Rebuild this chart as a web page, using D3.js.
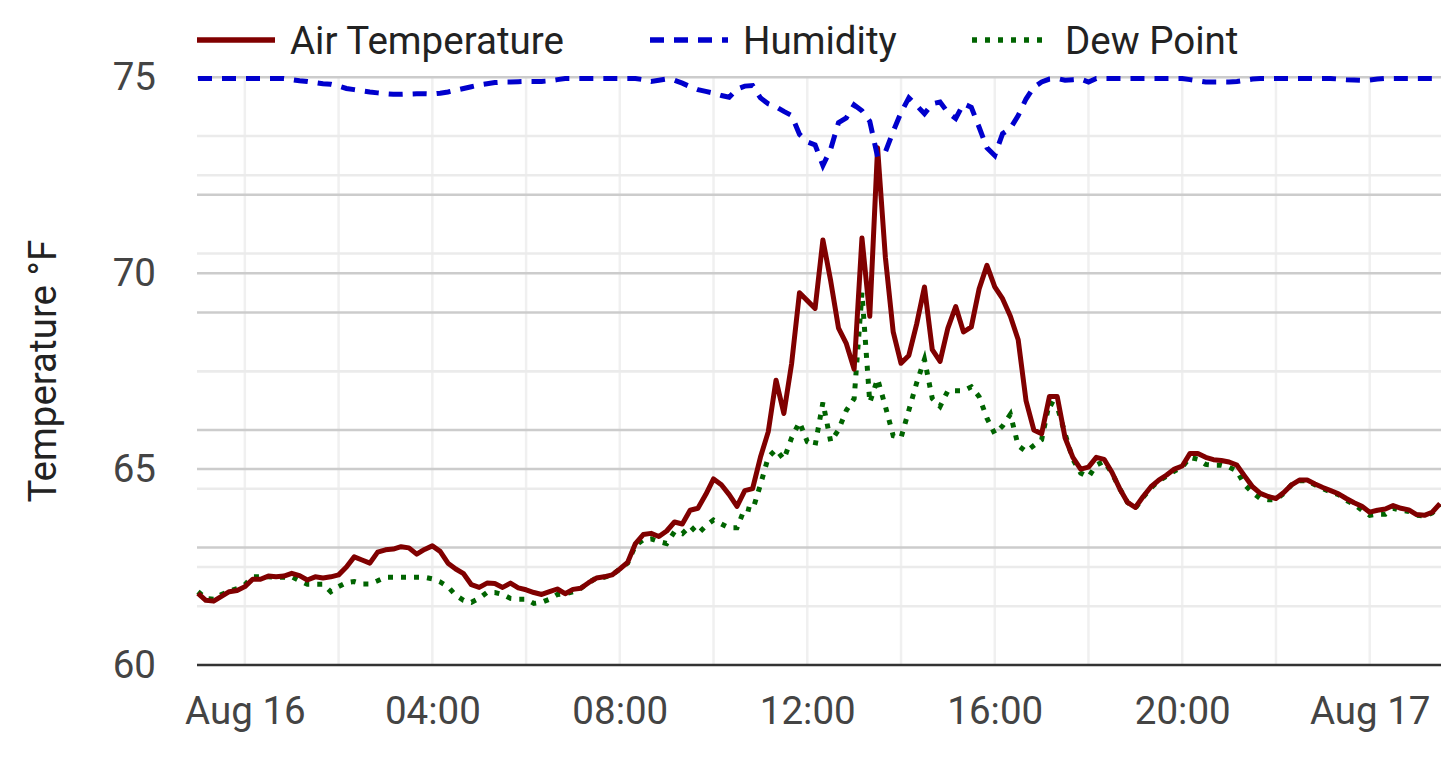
<!DOCTYPE html>
<html>
<head>
<meta charset="utf-8">
<script src="https://cdn.jsdelivr.net/npm/d3@7"></script>
<style>
  html, body { margin: 0; padding: 0; background: #fff; }
  svg { display: block; font-family: Roboto, "Noto Sans", sans-serif; }
  svg text { font-family: Roboto, "Noto Sans", sans-serif; }
</style>
</head>
<body>
<script>

var width = 1441, height = 761;

// readings every 10 minutes, starting Aug 15 23:00
var startTime = new Date(2023, 7, 15, 23, 0);
var endTime = new Date(2023, 7, 17, 1, 30);
var stepMinutes = 10;

var airTemp = [
  61.83, 61.65, 61.63, 61.75, 61.87, 61.90, 62.00, 62.19, 62.19, 62.27,
  62.25, 62.27, 62.34, 62.28, 62.17, 62.25, 62.22, 62.25, 62.30, 62.50,
  62.76, 62.68, 62.60, 62.88, 62.94, 62.96, 63.02, 62.99, 62.83, 62.95,
  63.04, 62.90, 62.60, 62.45, 62.33, 62.05, 61.98, 62.09, 62.08, 61.98,
  62.09, 61.97, 61.92, 61.85, 61.80, 61.87, 61.94, 61.82, 61.93, 61.96,
  62.10, 62.22, 62.25, 62.30, 62.45, 62.62, 63.10, 63.33, 63.36, 63.28,
  63.42, 63.65, 63.60, 63.95, 64.00, 64.35, 64.75, 64.60, 64.35, 64.05,
  64.45, 64.50, 65.30, 65.95, 67.27, 66.42, 67.70, 69.50, 69.30, 69.10,
  70.85, 69.80, 68.60, 68.20, 67.55, 70.90, 68.90, 73.20, 70.40, 68.50,
  67.70, 67.90, 68.70, 69.65, 68.05, 67.75, 68.60, 69.15, 68.50, 68.63,
  69.60, 70.20, 69.65, 69.35, 68.90, 68.30, 66.75, 66.00, 65.90, 66.85,
  66.85, 65.80, 65.30, 65.00, 65.05, 65.30, 65.25, 64.92, 64.50, 64.15,
  64.02, 64.30, 64.55, 64.72, 64.85, 65.00, 65.08, 65.40, 65.40, 65.30,
  65.24, 65.22, 65.18, 65.10, 64.82, 64.55, 64.38, 64.30, 64.25, 64.40,
  64.60, 64.72, 64.72, 64.62, 64.53, 64.45, 64.37, 64.25, 64.14, 64.05,
  63.90, 63.95, 63.98, 64.07, 64.00, 63.96, 63.84, 63.82, 63.90, 64.12
];

var humidity = [
  99.8, 99.8, 99.8, 99.8, 99.8, 99.8, 99.8, 99.8, 99.8, 99.8,
  99.8, 99.8, 99.6, 99.4, 99.3, 99.1, 98.9, 98.8, 98.5, 98.1,
  97.9, 97.7, 97.5, 97.35, 97.2, 97.1, 97.1, 97.15, 97.2, 97.2,
  97.15, 97.3, 97.5, 97.8, 98.1, 98.4, 98.7, 98.9, 99.1, 99.2,
  99.2, 99.25, 99.3, 99.3, 99.3, 99.4, 99.6, 99.8, 99.8, 99.8,
  99.8, 99.8, 99.8, 99.8, 99.8, 99.8, 99.8, 99.6, 99.3, 99.5,
  99.7, 99.5, 99.0, 98.4, 97.9, 97.6, 97.3, 96.9, 96.6, 98.0,
  98.5, 98.6, 96.5, 95.5, 95.0, 94.2, 93.5, 90.3, 89.0, 88.5,
  85.0, 87.8, 92.3, 93.1, 95.3, 94.3, 92.5, 86.5, 87.3, 90.8,
  94.0, 96.5, 95.2, 93.8, 95.5, 95.8, 94.0, 93.0, 95.5, 94.9,
  91.5, 88.0, 86.7, 90.4, 91.3, 93.5, 96.3, 98.3, 99.2, 99.7,
  99.8, 99.5, 99.6, 99.7, 99.2, 99.8, 99.8, 99.8, 99.8, 99.8,
  99.8, 99.8, 99.8, 99.8, 99.8, 99.8, 99.8, 99.6, 99.4, 99.2,
  99.2, 99.2, 99.2, 99.3, 99.5, 99.7, 99.8, 99.8, 99.8, 99.8,
  99.8, 99.8, 99.8, 99.8, 99.8, 99.8, 99.7, 99.6, 99.55, 99.5,
  99.55, 99.7, 99.8, 99.8, 99.8, 99.8, 99.8, 99.8, 99.8, 99.8
];

var dewPoint = [
  61.87, 61.70, 61.68, 61.80, 61.88, 61.95, 62.05, 62.25, 62.25, 62.25,
  62.24, 62.24, 62.25, 62.15, 62.06, 62.06, 62.06, 61.87, 62.00, 62.10,
  62.13, 62.07, 62.07, 62.15, 62.24, 62.24, 62.24, 62.24, 62.24, 62.24,
  62.20, 62.12, 62.00, 61.78, 61.65, 61.60, 61.70, 61.85, 61.85, 61.80,
  61.70, 61.68, 61.68, 61.57, 61.60, 61.68, 61.80, 61.82, 61.87, 61.96,
  62.10, 62.22, 62.24, 62.30, 62.45, 62.60, 63.05, 63.20, 63.22, 63.15,
  63.10, 63.40, 63.35, 63.55, 63.35, 63.55, 63.70, 63.60, 63.50, 63.50,
  64.00, 63.95, 64.60, 65.30, 65.50, 65.25, 65.80, 66.20, 65.70, 65.60,
  66.70, 65.70, 66.00, 66.50, 66.80, 69.50, 66.70, 67.30, 66.60, 65.85,
  65.80, 66.50, 67.20, 67.80, 66.80, 66.60, 67.00, 67.00, 67.00, 67.10,
  66.85, 66.30, 65.90, 66.10, 66.40, 65.60, 65.45, 65.60, 65.75, 66.70,
  66.60, 65.90, 65.25, 64.90, 64.80, 65.10, 65.20, 64.90, 64.50, 64.15,
  64.00, 64.28, 64.52, 64.70, 64.82, 64.95, 65.05, 65.30, 65.25, 65.12,
  65.10, 65.10, 65.05, 64.95, 64.60, 64.40, 64.25, 64.22, 64.22, 64.38,
  64.60, 64.70, 64.70, 64.60, 64.50, 64.42, 64.35, 64.20, 64.10, 63.95,
  63.82, 63.85, 63.85, 64.00, 63.95, 63.92, 63.82, 63.80, 63.88, 64.10
];

var tempTicks = [60, 65, 70, 75];
var tempMinor = [62.5, 67.5, 72.5];
var humidityGrid = [20, 40, 60, 80];
var humidityMinor = [10, 30, 50, 70, 90];

var seriesNames = ["Air Temperature", "Humidity", "Dew Point"];
var seriesColors = ["#800000", "#0000cd", "#006400"];
var seriesDash = [null, "14,10", "5,8"];

var plotLeft = 198, plotRight = 1440, plotTop = 77.3, plotBottom = 665;
var fontSize = "38.5px";
var lineWidth = 5;

function timeAt(i) {
  return new Date(startTime.getTime() + i * stepMinutes * 60000);
}

var x = d3.scaleTime()
    .domain([startTime, endTime])
    .range([plotLeft, plotRight]);

var y = d3.scaleLinear()
    .domain([60, 75])
    .range([plotBottom, plotTop]);

var y2 = d3.scaleLinear()
    .domain([0, 100])
    .range([plotBottom, plotTop]);

var svg = d3.select("body").append("svg")
    .attr("width", width)
    .attr("height", height);

var grid = svg.append("g");

// vertical grid every 2 hours
grid.selectAll("line.v")
    .data(x.ticks(d3.timeHour.every(2)))
    .enter().append("line")
    .attr("x1", function(d){ return x(d); })
    .attr("x2", function(d){ return x(d); })
    .attr("y1", plotTop)
    .attr("y2", plotBottom)
    .style("stroke", "#f0f0f0")
    .style("stroke-width", 2.5);

function hLines(values, scale, color) {
  grid.selectAll(null)
      .data(values)
      .enter().append("line")
      .attr("x1", plotLeft - 1)
      .attr("x2", width)
      .attr("y1", function(d){ return scale(d); })
      .attr("y2", function(d){ return scale(d); })
      .style("stroke", color)
      .style("stroke-width", 2.5);
}

hLines(tempMinor, y, "#ebebeb");
hLines(humidityMinor, y2, "#ebebeb");
hLines(humidityGrid, y2, "#cccccc");
hLines(tempTicks.slice(1), y, "#cccccc");

// x axis
var xAxis = d3.axisBottom(x)
    .ticks(d3.timeHour.every(4))
    .tickSize(0)
    .tickPadding(32)
    .tickFormat(function(d){
      return d.getHours() === 0 ? d3.timeFormat("%b %-d")(d) : d3.timeFormat("%H:%M")(d);
    });

var gx = svg.append("g")
    .attr("transform", "translate(0," + plotBottom + ")")
    .call(xAxis)
    .attr("font-family", null);
gx.select(".domain").remove();
gx.selectAll("text")
    .style("font-size", fontSize)
    .style("fill", "#444");

// y axis
var yAxis = d3.axisLeft(y)
    .tickValues(tempTicks)
    .tickSize(0)
    .tickPadding(42)
    .tickFormat(d3.format("d"));

var gy = svg.append("g")
    .attr("transform", "translate(" + plotLeft + ",0)")
    .call(yAxis)
    .attr("font-family", null);
gy.select(".domain").remove();
gy.selectAll("text")
    .style("font-size", fontSize)
    .style("fill", "#444");

svg.append("line")
    .attr("x1", plotLeft - 1)
    .attr("x2", width)
    .attr("y1", plotBottom)
    .attr("y2", plotBottom)
    .style("stroke", "#333")
    .style("stroke-width", 2.5);

svg.append("text")
    .attr("transform", "translate(56," + ((plotTop + plotBottom) / 2) + ") rotate(-90)")
    .attr("text-anchor", "middle")
    .style("font-size", fontSize)
    .style("fill", "#222")
    .text("Temperature °F");

// series
var idx = d3.range(airTemp.length);

var tempLine = d3.line()
    .x(function(i){ return x(timeAt(i)); });

var plot = svg.append("g");

plot.append("path")
    .attr("d", tempLine.y(function(i){ return y(dewPoint[i]); })(idx))
    .style("fill", "none")
    .style("stroke", seriesColors[2])
    .style("stroke-width", lineWidth)
    .style("stroke-dasharray", seriesDash[2]);

plot.append("path")
    .attr("d", tempLine.y(function(i){ return y(airTemp[i]); })(idx))
    .style("fill", "none")
    .style("stroke", seriesColors[0])
    .style("stroke-width", lineWidth)
    .style("stroke-linejoin", "round");

plot.append("path")
    .attr("d", tempLine.y(function(i){ return y2(humidity[i]); })(idx))
    .style("fill", "none")
    .style("stroke", seriesColors[1])
    .style("stroke-width", lineWidth)
    .style("stroke-dasharray", seriesDash[1]);

// legend
var legendX = [197, 650, 972];
var legend = svg.selectAll("g.legend")
    .data(seriesNames)
    .enter().append("g")
    .attr("transform", function(d, i){ return "translate(" + legendX[i] + ",40)"; });

legend.append("line")
    .attr("x1", 0)
    .attr("x2", 78)
    .style("stroke", function(d, i){ return seriesColors[i]; })
    .style("stroke-width", 5.5)
    .style("stroke-dasharray", function(d, i){ return seriesDash[i]; });

legend.append("text")
    .attr("x", 93)
    .attr("y", 14)
    .style("font-size", fontSize)
    .style("fill", "#222")
    .text(function(d){ return d; });

</script>
</body>
</html>
